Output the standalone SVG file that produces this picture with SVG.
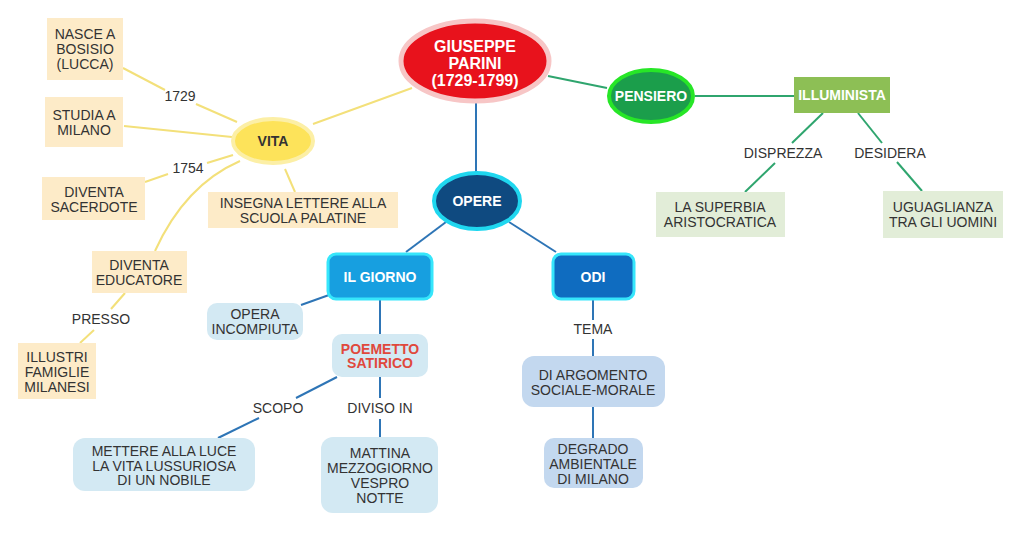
<svg xmlns="http://www.w3.org/2000/svg" width="1024" height="533" viewBox="0 0 1024 533">
<style>
text{font-family:"Liberation Sans",Arial,sans-serif;font-size:14px;fill:#333;text-anchor:middle}
.b{font-weight:bold}
.w{fill:#fff;font-weight:bold}
.y{stroke:#f3e07a;stroke-width:2;fill:none}
.g{stroke:#2fa56e;stroke-width:2;fill:none}
.bl{stroke:#2e75b6;stroke-width:2;fill:none}
.peach{fill:#fdebc8}
.lg{fill:#e2edd8}
.lb{fill:#d3e9f3}
.mb{fill:#c3d8ef}
</style>
<rect width="1024" height="533" fill="#fff"/>
<g id="connectors">
<line class="y" x1="412" y1="88" x2="313" y2="124"/>
<line class="y" x1="123" y1="68" x2="165" y2="90"/>
<line class="y" x1="196" y1="104" x2="237" y2="122"/>
<line class="y" x1="124" y1="126" x2="232" y2="137"/>
<line class="y" x1="145" y1="182" x2="168" y2="174"/>
<line class="y" x1="207" y1="163" x2="233" y2="155"/>
<line class="y" x1="285" y1="169" x2="295" y2="192"/>
<path class="y" d="M240 161 Q185 185 155 251"/>
<line class="y" x1="125" y1="293" x2="111" y2="309"/>
<line class="y" x1="94" y1="330" x2="80" y2="343"/>
<line class="g" x1="548" y1="76" x2="607" y2="88"/>
<line class="g" x1="695" y1="96" x2="794" y2="96"/>
<line class="g" x1="823" y1="113" x2="792" y2="143"/>
<line class="g" x1="775" y1="163" x2="745" y2="192"/>
<line class="g" x1="858" y1="113" x2="882" y2="143"/>
<line class="g" x1="897" y1="162" x2="922" y2="191"/>
<line class="bl" x1="476" y1="103" x2="476" y2="172"/>
<line class="bl" x1="446" y1="222" x2="406" y2="252"/>
<line class="bl" x1="509" y1="222" x2="556" y2="252"/>
<line class="bl" x1="329" y1="295" x2="301" y2="305"/>
<line class="bl" x1="380" y1="300" x2="380" y2="334"/>
<line class="bl" x1="337" y1="377" x2="296" y2="398"/>
<line class="bl" x1="259" y1="418" x2="218" y2="438"/>
<line class="bl" x1="380" y1="377" x2="380" y2="398"/>
<line class="bl" x1="380" y1="419" x2="380" y2="437"/>
<line class="bl" x1="593" y1="300" x2="593" y2="320"/>
<line class="bl" x1="593" y1="339" x2="593" y2="356"/>
<line class="bl" x1="593" y1="407" x2="593" y2="438"/>
<text x="180" y="101">1729</text>
<text x="188" y="173">1754</text>
<text x="101" y="324">PRESSO</text>
<text x="783" y="158">DISPREZZA</text>
<text x="890" y="158">DESIDERA</text>
<text x="278" y="413">SCOPO</text>
<text x="380" y="413">DIVISO IN</text>
<text x="593" y="334">TEMA</text>
</g>
<g id="parini">
<ellipse cx="475" cy="61" rx="74" ry="40" fill="#e8121c" stroke="#f7c6c6" stroke-width="5"/>
<text class="w" x="475" y="52" style="font-size:16px">GIUSEPPE</text>
<text class="w" x="475" y="69" style="font-size:16px">PARINI</text>
<text class="w" x="475" y="86" style="font-size:16px">(1729-1799)</text>
</g>
<g id="vita">
<ellipse cx="273" cy="141" rx="40" ry="22" fill="#fde35a" stroke="#fcefa6" stroke-width="4"/>
<text class="b" x="273" y="146">VITA</text>
</g>
<g id="nasce">
<rect class="peach" x="47" y="18" width="76" height="62"/>
<text x="85" y="39">NASCE A</text><text x="85" y="54">BOSISIO</text><text x="85" y="69">(LUCCA)</text>
</g>
<g id="studia">
<rect class="peach" x="45" y="97" width="78" height="50"/>
<text x="84" y="120">STUDIA A</text><text x="84" y="135">MILANO</text>
</g>
<g id="sacerdote">
<rect class="peach" x="42" y="177" width="103" height="43"/>
<text x="94" y="197">DIVENTA</text><text x="94" y="212">SACERDOTE</text>
</g>
<g id="insegna">
<rect class="peach" x="208" y="192" width="190" height="36"/>
<text x="303" y="208">INSEGNA LETTERE ALLA</text><text x="303" y="223">SCUOLA PALATINE</text>
</g>
<g id="educatore">
<rect class="peach" x="92" y="251" width="95" height="42"/>
<text x="139" y="270">DIVENTA</text><text x="139" y="285">EDUCATORE</text>
</g>
<g id="illustri">
<rect class="peach" x="18" y="343" width="78" height="56"/>
<text x="57" y="362">ILLUSTRI</text><text x="57" y="377">FAMIGLIE</text><text x="57" y="392">MILANESI</text>
</g>
<g id="pensiero">
<ellipse cx="651" cy="96" rx="42" ry="26" fill="#1b9e4b" stroke="#27e627" stroke-width="4"/>
<text class="w" x="651" y="101">PENSIERO</text>
</g>
<g id="illuminista">
<rect x="794" y="77" width="96" height="36" fill="#8dbf55"/>
<text class="w" x="842" y="100">ILLUMINISTA</text>
</g>
<g id="superbia">
<rect class="lg" x="656" y="192" width="129" height="45"/>
<text x="720" y="212">LA SUPERBIA</text><text x="720" y="227">ARISTOCRATICA</text>
</g>
<g id="uguaglianza">
<rect class="lg" x="883" y="191" width="120" height="47"/>
<text x="943" y="212">UGUAGLIANZA</text><text x="943" y="227">TRA GLI UOMINI</text>
</g>
<g id="opere">
<ellipse cx="477" cy="201" rx="43" ry="28" fill="#0f4a80" stroke="#1fd7ef" stroke-width="4"/>
<text class="w" x="477" y="206">OPERE</text>
</g>
<g id="ilgiorno">
<rect x="328" y="254" width="104" height="45" rx="8" fill="#179fe0" stroke="#36e6fb" stroke-width="3"/>
<text class="w" x="380" y="282">IL GIORNO</text>
</g>
<g id="odi">
<rect x="553" y="254" width="81" height="45" rx="8" fill="#0f6cc0" stroke="#36e6fb" stroke-width="3"/>
<text class="w" x="593" y="282">ODI</text>
</g>
<g id="incompiuta">
<rect class="lb" x="207" y="303" width="96" height="37" rx="10"/>
<text x="255" y="319">OPERA</text><text x="255" y="334">INCOMPIUTA</text>
</g>
<g id="poemetto">
<rect class="lb" x="332" y="334" width="96" height="43" rx="10"/>
<text x="380" y="354" style="font-weight:bold;fill:#e0483c">POEMETTO</text>
<text x="380" y="368" style="font-weight:bold;fill:#e0483c">SATIRICO</text>
</g>
<g id="mettere">
<rect class="lb" x="73" y="438" width="182" height="53" rx="12"/>
<text x="164" y="456">METTERE ALLA LUCE</text><text x="164" y="471">LA VITA LUSSURIOSA</text><text x="164" y="485">DI UN NOBILE</text>
</g>
<g id="mattina">
<rect class="lb" x="321" y="437" width="117" height="76" rx="12"/>
<text x="380" y="458">MATTINA</text><text x="380" y="473">MEZZOGIORNO</text><text x="380" y="488">VESPRO</text><text x="380" y="503">NOTTE</text>
</g>
<g id="argomento">
<rect class="mb" x="522" y="356" width="143" height="51" rx="12"/>
<text x="593" y="380">DI ARGOMENTO</text><text x="593" y="395">SOCIALE-MORALE</text>
</g>
<g id="degrado">
<rect class="mb" x="544" y="438" width="99" height="50" rx="10"/>
<text x="593" y="454">DEGRADO</text><text x="593" y="469">AMBIENTALE</text><text x="593" y="484">DI MILANO</text>
</g>
</svg>
